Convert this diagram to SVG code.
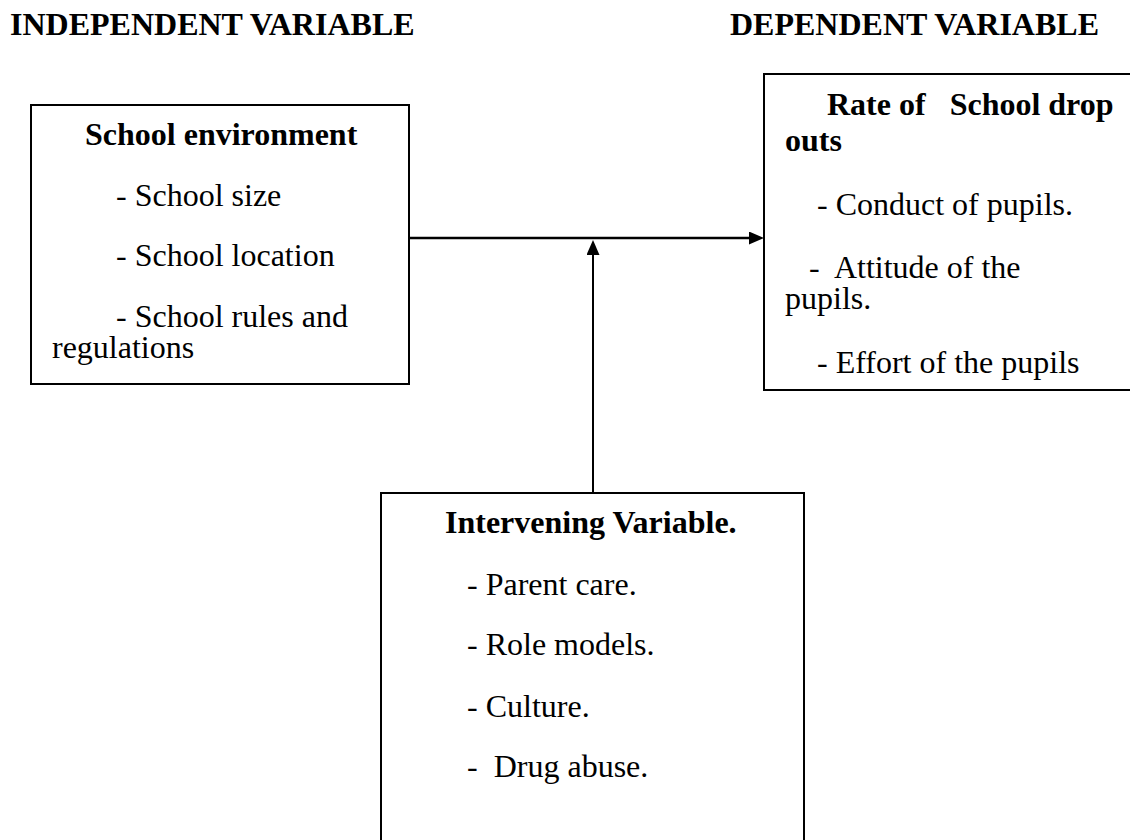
<svg xmlns="http://www.w3.org/2000/svg" width="1130" height="840" viewBox="0 0 1130 840">
<style>
  text { font-family: "Liberation Serif", "Times New Roman", serif; font-size: 32px; fill: #000; white-space: pre; }
  .b { font-weight: bold; }
  .box { fill: #fff; stroke: #000; stroke-width: 2; }
  .conn { stroke: #000; stroke-width: 2.5; fill: none; }
</style>
<defs>
  <marker id="arrow" markerUnits="userSpaceOnUse" markerWidth="15" markerHeight="13" refX="5" refY="6.5" orient="auto" viewBox="0 0 15 13">
    <path d="M0,0 L15,6.5 L0,13 z" fill="#000"/>
  </marker>
</defs>
<rect x="0" y="0" width="1130" height="840" fill="#fff"/>

<g id="header-independent">
  <text class="b" x="10" y="35">INDEPENDENT VARIABLE</text>
</g>
<g id="header-dependent">
  <text class="b" x="730" y="35">DEPENDENT VARIABLE</text>
</g>

<g id="school-environment">
  <rect class="box" x="31" y="105" width="378" height="279"/>
  <text class="b" x="85" y="145">School environment</text>
  <text x="116" y="206">- School size</text>
  <text x="116" y="266">- School location</text>
  <text x="116" y="327">- School rules and</text>
  <text x="52" y="358">regulations</text>
</g>

<g id="dropout-rate">
  <rect class="box" x="764" y="74" width="400" height="316"/>
  <text class="b" x="827" y="115" xml:space="preserve">Rate of   School drop</text>
  <text class="b" x="785" y="151">outs</text>
  <text x="817" y="215">- Conduct of pupils.</text>
  <text x="809" y="278" xml:space="preserve">-  Attitude of the</text>
  <text x="785" y="309">pupils.</text>
  <text x="817" y="373">- Effort of the pupils</text>
</g>

<g id="intervening-variable">
  <rect class="box" x="381" y="493" width="423" height="380"/>
  <text class="b" x="445" y="533">Intervening Variable.</text>
  <text x="467" y="595">- Parent care.</text>
  <text x="467" y="655">- Role models.</text>
  <text x="467" y="717">- Culture.</text>
  <text x="467" y="777" xml:space="preserve">-  Drug abuse.</text>
</g>

<g id="connectors">
  <line class="conn" x1="409" y1="238" x2="754" y2="238" marker-end="url(#arrow)"/>
  <line class="conn" x1="593" y1="493" x2="593" y2="250" marker-end="url(#arrow)" style="stroke-width:2"/>
</g>
</svg>
